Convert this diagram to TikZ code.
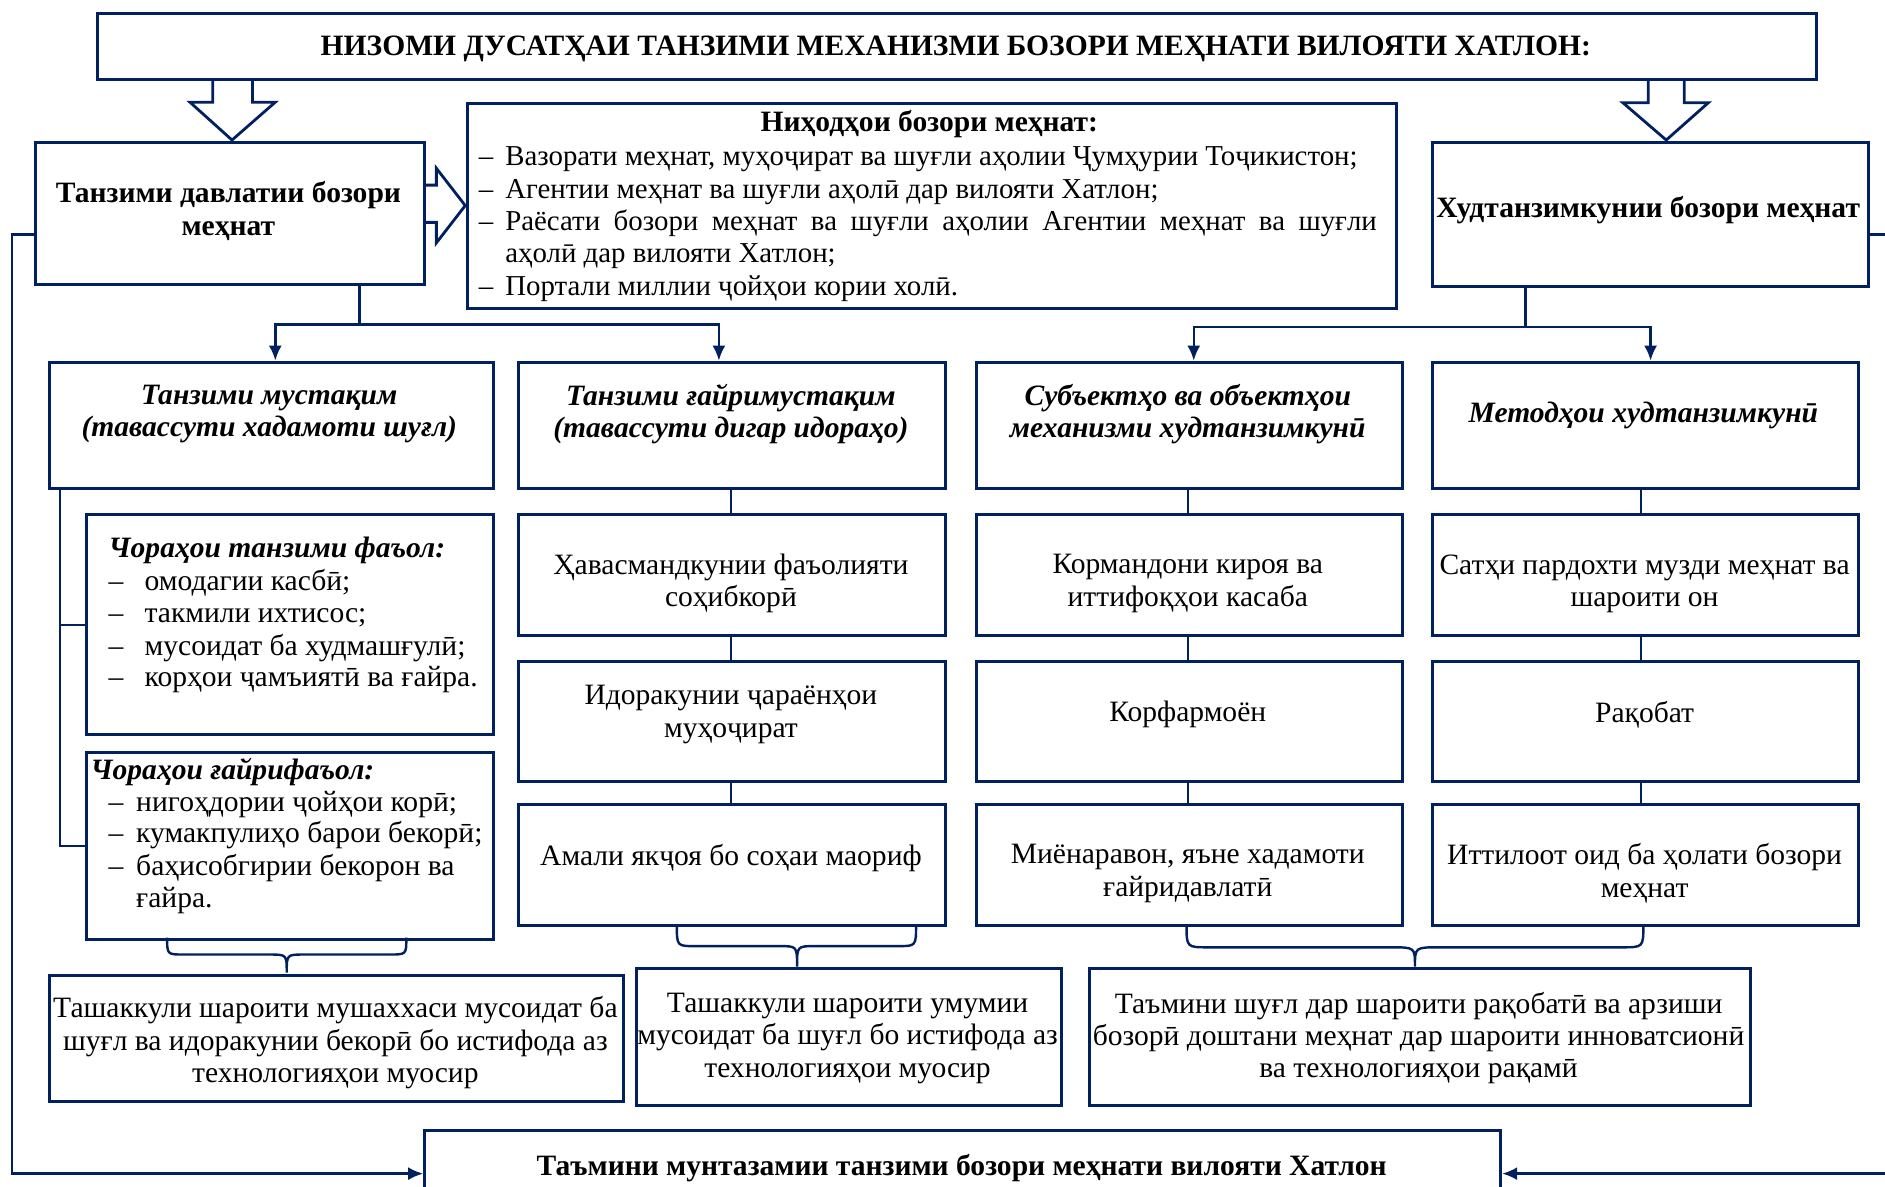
\documentclass[tikz,border=0pt]{standalone}
\usepackage{fontspec}
\setmainfont{Liberation Serif}
\usetikzlibrary{arrows.meta}
\definecolor{navy}{RGB}{0,32,96}
\newcommand\fs{\fontsize{14.75}{16.2}\selectfont}
\newcommand\fsn{\fontsize{14.4}{16.2}\selectfont}
\newcommand\bx[5]{\node[boxst,anchor=north west,minimum width={(#3-#1)*0.6pt},minimum height={(#4-#2)*0.6pt}] (#5) at (#1,#2) {};}
\tikzset{
  boxst/.style={draw=navy, line width=1.5pt, fill=white, inner sep=0pt},
  conn/.style={draw=navy, line width=1.2pt},
  arr/.style={conn, -{Latex[length=7.5pt,width=6.5pt]}},
  hollow/.style={draw=navy, line width=1.4pt, fill=none, line join=miter},
  txt/.style={inner sep=0pt, align=center, font=\fs, yshift=-1.5pt},
  btxt/.style={txt, font=\fs\bfseries},
  bitxt/.style={txt, font=\fs\bfseries\itshape},
  ltxt/.style={inner sep=0pt, anchor=base west, font=\fs, yshift=-0.6pt},
  ntxt/.style={ltxt, font=\fsn},
}
\begin{document}
\begin{tikzpicture}[x=0.6pt,y=-0.6pt]
\useasboundingbox (0,0) rectangle (1568,987);
\fill[white] (0,0) rectangle (1568,987);

% ---------- boxes
\bx{80}{10}{1510}{65}{T}
\bx{28}{117}{352}{235}{S}
\bx{388}{85}{1160}{255}{N}
\bx{1190}{117}{1553}{237}{H}
\bx{40}{300}{409}{405}{A}
\bx{430}{300}{785}{405}{B}
\bx{811}{300}{1165}{405}{C}
\bx{1190}{300}{1545}{405}{D}
\bx{71}{427}{409}{610}{Aa}
\bx{71}{625}{409}{780}{Ab}
\bx{430}{427}{785}{527}{Ba}
\bx{430}{549}{785}{649}{Bb}
\bx{430}{668}{785}{769}{Bc}
\bx{811}{427}{1165}{527}{Ca}
\bx{811}{549}{1165}{649}{Cb}
\bx{811}{668}{1165}{769}{Cc}
\bx{1190}{427}{1545}{527}{Da}
\bx{1190}{549}{1545}{649}{Db}
\bx{1190}{668}{1545}{769}{Dc}
\bx{40}{810}{517}{915}{Ea}
\bx{528}{804}{882}{918}{Eb}
\bx{905}{804}{1455}{918}{Ec}
\bx{352}{939}{1247}{1011}{Z}

% ---------- texts
\node[btxt] (Tt) at (795,38) {НИЗОМИ ДУСАТҲАИ ТАНЗИМИ МЕХАНИЗМИ БОЗОРИ МЕҲНАТИ ВИЛОЯТИ ХАТЛОН:};
\node[btxt] (St) at (190,173) {Танзими давлатии бозори\\меҳнат};
\node[btxt] (Ht) at (1371,172) {Худтанзимкунии бозори меҳнат};

\node[btxt] (Nt) at (773,101) {Ниҳодҳои бозори меҳнат:};
\node[ntxt] (Nd1) at (398,137) {–};
\node[ntxt] (Nl1) at (420,137) {Вазорати меҳнат, муҳоҷират ва шуғли аҳолии Ҷумҳурии Тоҷикистон;};
\node[ntxt] (Nd2) at (398,164) {–};
\node[ntxt] (Nl2) at (420,164) {Агентии меҳнат ва шуғли аҳолӣ дар вилояти Хатлон;};
\node[ntxt] (Nd3) at (398,191) {–};
\node[ntxt] (Nl3) at (420,191) {\makebox[435pt][s]{Раёсати бозори меҳнат ва шуғли аҳолии Агентии меҳнат ва шуғли}};
\node[ntxt] (Nl4) at (420,217) {аҳолӣ дар вилояти Хатлон;};
\node[ntxt] (Nd5) at (398,245) {–};
\node[ntxt] (Nl5) at (420,245) {Портали миллии ҷойҳои кории холӣ.};

\node[bitxt] (At) at (224,342) {Танзими мустақим\\(тавассути хадамоти шуғл)};
\node[bitxt] (Bt) at (608,342) {Танзими ғайримустақим\\(тавассути дигар идораҳо)};
\node[bitxt] (Ct) at (988,342) {Субъектҳо ва объектҳои\\механизми худтанзимкунӣ};
\node[bitxt] (Dt) at (1367,343) {Методҳои худтанзимкунӣ};

\node[ltxt,font=\fs\bfseries\itshape] (Aat) at (90,463) {Чораҳои танзими фаъол:};
\node[ltxt] (Aad1) at (90,490) {–};
\node[ltxt] (Aal1) at (120,490) {омодагии касбӣ;};
\node[ltxt] (Aad2) at (90,517) {–};
\node[ltxt] (Aal2) at (120,517) {такмили ихтисос;};
\node[ltxt] (Aad3) at (90,544) {–};
\node[ltxt] (Aal3) at (120,544) {мусоидат ба худмашғулӣ;};
\node[ltxt] (Aad4) at (90,570) {–};
\node[ltxt] (Aal4) at (120,570) {корҳои ҷамъиятӣ ва ғайра.};

\node[ltxt,font=\fs\bfseries\itshape] (Abt) at (75,647) {Чораҳои ғайрифаъол:};
\node[ltxt] (Abd1) at (90,674) {–};
\node[ltxt] (Abl1) at (113,674) {нигоҳдории ҷойҳои корӣ;};
\node[ltxt] (Abd2) at (90,700) {–};
\node[ltxt] (Abl2) at (113,700) {кумакпулиҳо барои бекорӣ;};
\node[ltxt] (Abd3) at (90,727) {–};
\node[ltxt] (Abl3) at (113,727) {баҳисобгирии бекорон ва};
\node[ltxt] (Abl4) at (113,754) {ғайра.};

\node[txt] (Bat) at (608,483) {Ҳавасмандкунии фаъолияти\\соҳибкорӣ};
\node[txt] (Bbt) at (608,592) {Идоракунии ҷараёнҳои\\муҳоҷират};
\node[txt] (Bct) at (608,711) {Амали якҷоя бо соҳаи маориф};
\node[txt] (Cat) at (988,483) {Кормандони кироя ва\\иттифоқҳои касаба};
\node[txt] (Cbt) at (988,592) {Корфармоён};
\node[txt] (Cct) at (988,724) {Миёнаравон, яъне хадамоти\\ғайридавлатӣ};
\node[txt] (Dat) at (1368,483) {Сатҳи пардохти музди меҳнат ва\\шароити он};
\node[txt] (Dbt) at (1368,592) {Рақобат};
\node[txt] (Dct) at (1368,724) {Иттилоот оид ба ҳолати бозори\\меҳнат};

\node[txt] (Eat) at (279,865) {Ташаккули шароити мушаххаси мусоидат ба\\шуғл ва идоракунии бекорӣ бо истифода аз\\технологияҳои муосир};
\node[txt] (Ebt) at (705,861) {Ташаккули шароити умумии\\мусоидат ба шуғл бо истифода аз\\технологияҳои муосир};
\node[txt] (Ect) at (1180,861) {Таъмини шуғл дар шароити рақобатӣ ва арзиши\\бозорӣ доштани меҳнат дар шароити инноватсионӣ\\ва технологияҳои рақамӣ};
\node[btxt] (Zt) at (800,969) {Таъмини мунтазамии танзими бозори меҳнати вилояти Хатлон};

% ---------- hollow arrows
\draw[hollow] (177,65) -- (177,85) -- (158,85) -- (193,116.5) -- (229,85) -- (210,85) -- (210,65);
\draw[hollow] (1371,65) -- (1371,85.5) -- (1350,85.5) -- (1386,116.5) -- (1421,85.5) -- (1401,85.5) -- (1401,65);
\draw[hollow] (352,154) -- (363,154) -- (363,140) -- (387,171) -- (363,202) -- (363,185) -- (352,185);

% ---------- connectors
\draw[conn] (S.south -| 299,0) -- (299,270);
\draw[arr] (299,270) -| (A.north -| 229,0);
\draw[arr] (299,270) -| (B.north -| 598,0);
\draw[conn] (H.south -| 1269,0) -- (1269,272);
\draw[arr] (1269,272) -| (C.north -| 993,0);
\draw[arr] (1269,272) -| (D.north -| 1373,0);

\draw[conn] (A.south -| 50,0) |- (Aa.west);
\draw[conn] (A.south -| 50,0) |- (Ab.west);
\draw[conn] (B.south -| 608,0) -- (Ba.north -| 608,0);
\draw[conn] (Ba.south -| 608,0) -- (Bb.north -| 608,0);
\draw[conn] (Bb.south -| 608,0) -- (Bc.north -| 608,0);
\draw[conn] (C.south -| 988,0) -- (Ca.north -| 988,0);
\draw[conn] (Ca.south -| 988,0) -- (Cb.north -| 988,0);
\draw[conn] (Cb.south -| 988,0) -- (Cc.north -| 988,0);
\draw[conn] (D.south -| 1365,0) -- (Da.north -| 1365,0);
\draw[conn] (Da.south -| 1365,0) -- (Db.north -| 1365,0);
\draw[conn] (Db.south -| 1365,0) -- (Dc.north -| 1365,0);

\draw[arr] (S.west |- 0,195) -- (10,195) |- (Z.west);
\draw[arr] (H.east |- 0,195) -- (1580,195) |- (Z.east);

% ---------- braces
\draw[conn] (139,780) .. controls (139,794) .. (153,794) -- (224,794) .. controls (238.5,794) .. (238.5,809) .. controls (238.5,794) .. (253,794) -- (324,794) .. controls (338,794) .. (338,780);
\draw[conn] (563,769) .. controls (563,787) .. (578,787) -- (648,787) .. controls (663,787) .. (663,804) .. controls (663,787) .. (678,787) -- (747,787) .. controls (762,787) .. (762,769);
\draw[conn] (987,769) .. controls (987,788) .. (1005,788) -- (1157,788) .. controls (1177,788) .. (1177,804) .. controls (1177,788) .. (1197,788) -- (1349,788) .. controls (1367,788) .. (1367,769);
\end{tikzpicture}
\end{document}
